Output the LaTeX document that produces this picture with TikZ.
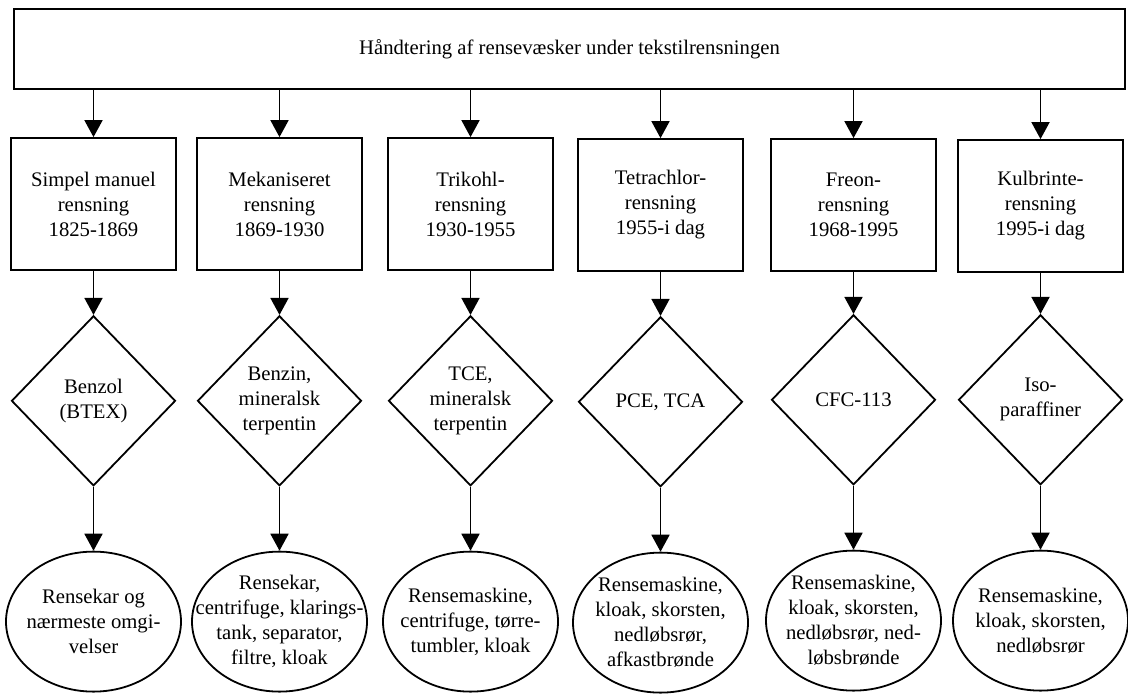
\documentclass[tikz,border=0pt]{standalone}
\usepackage{fontspec}
\setmainfont{Liberation Serif}
\usepackage{tikz}
\usetikzlibrary{
  shapes.geometric,
  arrows.meta,
  positioning
}
\newcommand{\chartfont}{\fontsize{10.35}{12.5}\selectfont}
\tikzset{
  basebox/.style={align=center,font=\chartfont,line width=0.9pt,inner sep=0pt},
  topnode/.style={basebox,rectangle,draw,minimum width=555.5pt,minimum height=40pt},
  periodnode/.style={basebox,rectangle,draw,minimum width=82.5pt,minimum height=66pt},
  solvnode/.style={basebox,diamond,draw,minimum width=82pt,minimum height=85pt},
  placenode/.style={basebox,ellipse,draw,minimum width=87.5pt,minimum height=70pt},
  placetext/.style={basebox},
  arr/.style={-{Triangle[width=9pt,length=8.5pt]},line width=0.9pt,color=black}
}

\begin{document}
\begin{tikzpicture}[x=0.5pt,y=0.5pt,node distance=22pt and 10pt]
  \useasboundingbox (0,0) rectangle (1128,-693);

  %% Overall heading
  \node[topnode] (top) at (569.5,-49)
    {Håndtering af rensevæsker under tekstilrensningen};

  %% Periods
  \node[periodnode] (per1) at (93.5,-204) {Simpel manuel\\rensning\\1825-1869};
  \node[periodnode] (per2) at (279.5,-204) {Mekaniseret\\rensning\\1869-1930};
  \node[periodnode] (per3) at (470.5,-204) {Trikohl-\\rensning\\1930-1955};
  \node[periodnode] (per4) at (660.5,-205) {Tetrachlor-\\rensning\\1955-i dag};
  \node[periodnode] (per5) at (853.5,-205) {Freon-\\rensning\\1968-1995};
  \node[periodnode] (per6) at (1040.5,-206) {Kulbrinte-\\rensning\\1995-i dag};

  %% Solvents
  \node[solvnode,below=of per1] (solv1) {Benzol\\(BTEX)};
  \node[solvnode,below=of per2] (solv2) {Benzin,\\mineralsk\\terpentin};
  \node[solvnode,below=of per3] (solv3) {TCE,\\mineralsk\\terpentin};
  \node[solvnode,below=of per4] (solv4) {PCE, TCA};
  \node[solvnode,below=21pt of per5] (solv5) {CFC-113};
  \node[solvnode,below=20.5pt of per6] (solv6) {Iso-\\paraffiner};

  %% Places
  \node[placenode,below=32pt of solv1] (place1) {};
  \node[placenode,below=32pt of solv2] (place2) {};
  \node[placenode,below=32pt of solv3] (place3) {};
  \node[placenode,below=32pt of solv4] (place4) {};
  \node[placenode,below=32pt of solv5] (place5) {};
  \node[placenode,below=32pt of solv6] (place6) {};
  \node[placetext] (ptxt1) at (place1) {Rensekar og\\nærmeste omgi-\\velser};
  \node[placetext] (ptxt2) at (place2) {Rensekar,\\centrifuge, klarings-\\tank, separator,\\filtre, kloak};
  \node[placetext] (ptxt3) at (place3) {Rensemaskine,\\centrifuge, tørre-\\tumbler, kloak};
  \node[placetext] (ptxt4) at (place4) {Rensemaskine,\\kloak, skorsten,\\nedløbsrør,\\afkastbrønde};
  \node[placetext] (ptxt5) at (place5) {Rensemaskine,\\kloak, skorsten,\\nedløbsrør, ned-\\løbsbrønde};
  \node[placetext] (ptxt6) at (place6) {Rensemaskine,\\kloak, skorsten,\\nedløbsrør};

  %% Arrows
  \draw[arr] (top.south -| solv1) -- (solv1 |- per1.north);
  \draw[arr] (top.south -| solv2) -- (solv2 |- per2.north);
  \draw[arr] (top.south -| solv3) -- (solv3 |- per3.north);
  \draw[arr] (top.south -| solv4) -- (solv4 |- per4.north);
  \draw[arr] (top.south -| solv5) -- (solv5 |- per5.north);
  \draw[arr] (top.south -| solv6) -- (solv6 |- per6.north);
  \draw[arr] (per1.south) -- (solv1.north);
  \draw[arr] (per2.south) -- (solv2.north);
  \draw[arr] (per3.south) -- (solv3.north);
  \draw[arr] (per4.south) -- (solv4.north);
  \draw[arr] (per5.south) -- (solv5.north);
  \draw[arr] (per6.south) -- (solv6.north);
  \draw[arr] (solv1.south) -- (place1.north);
  \draw[arr] (solv2.south) -- (place2.north);
  \draw[arr] (solv3.south) -- (place3.north);
  \draw[arr] (solv4.south) -- (place4.north);
  \draw[arr] (solv5.south) -- (place5.north);
  \draw[arr] (solv6.south) -- (place6.north);
\end{tikzpicture}
\end{document}
